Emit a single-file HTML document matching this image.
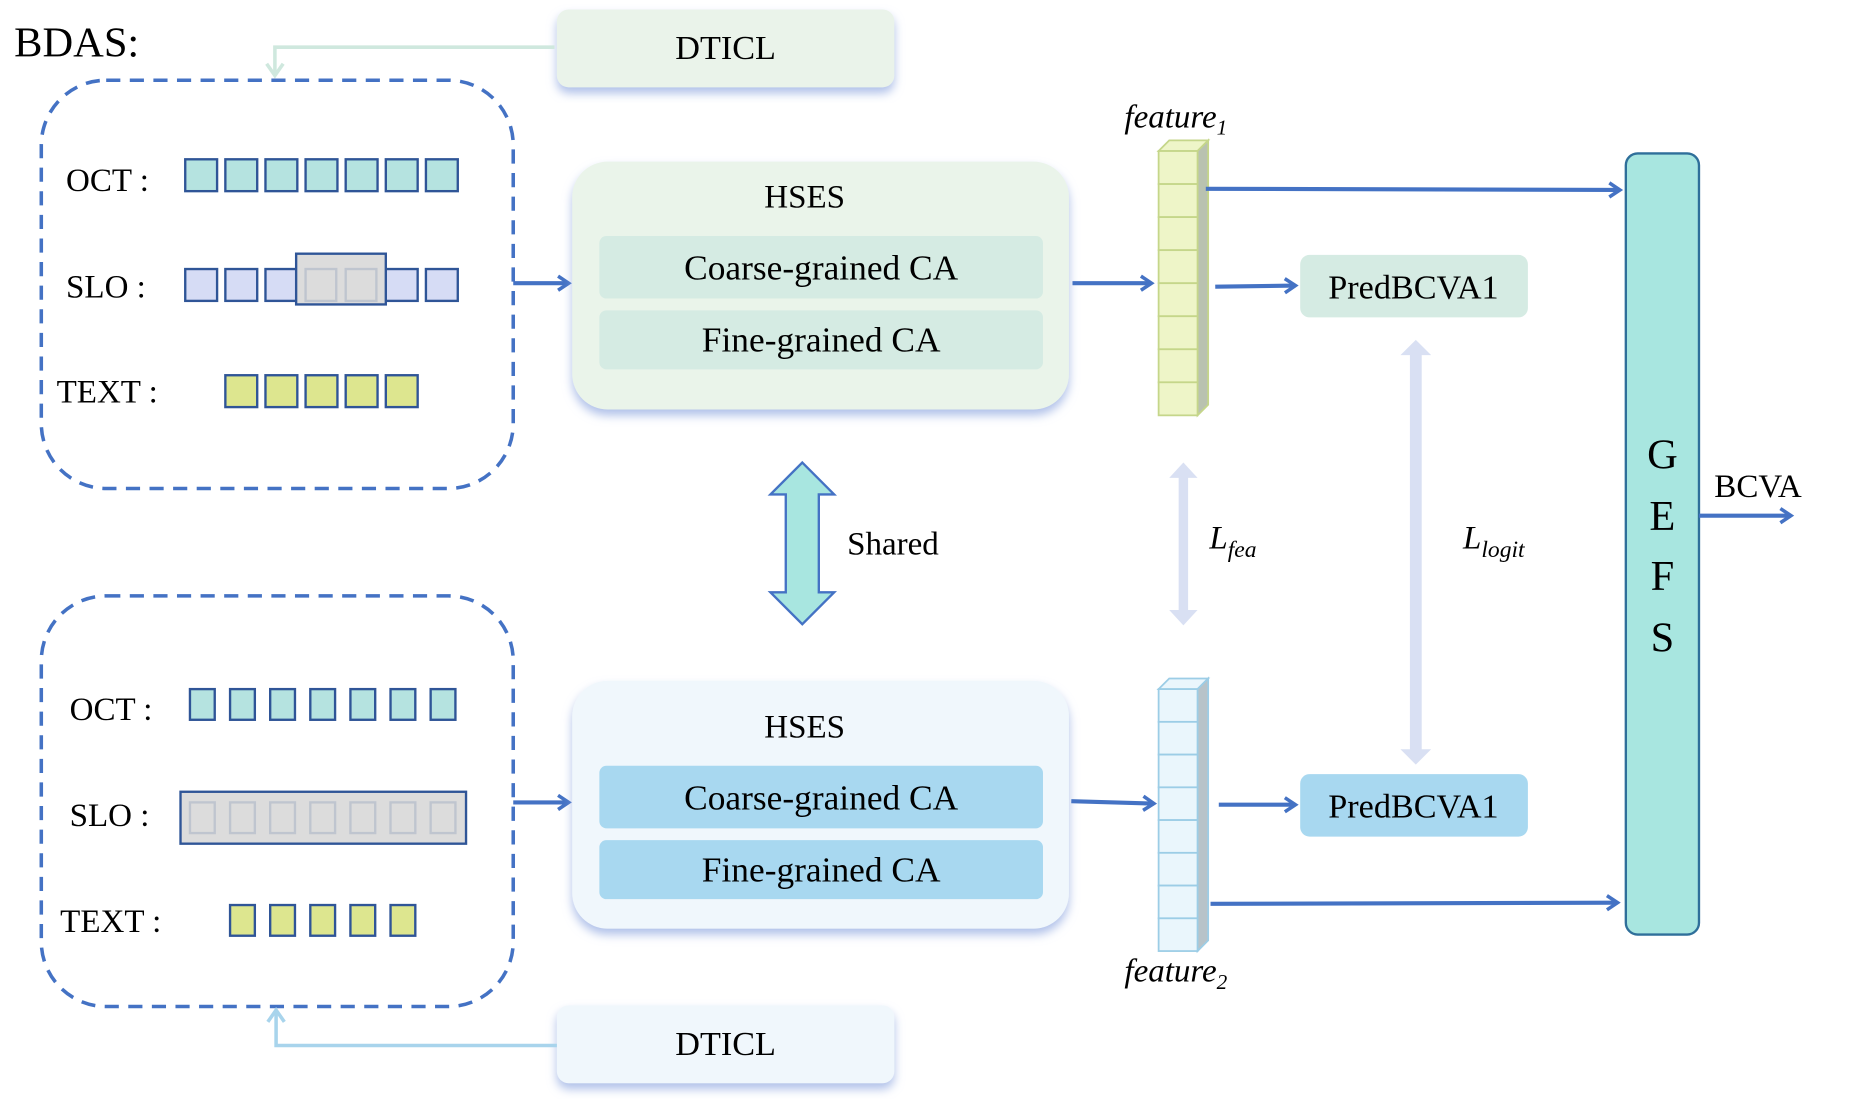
<!DOCTYPE html>
<html><head><meta charset="utf-8"><style>
html,body{margin:0;padding:0;background:#fff;}
svg{display:block;}
text{font-family:"Liberation Serif",serif;fill:#000;}
</style></head><body>
<svg width="1850" height="1108" viewBox="0 0 1568 939" preserveAspectRatio="none" xmlns="http://www.w3.org/2000/svg">
<defs>
<filter id="sh" x="-10%" y="-10%" width="120%" height="130%">
<feDropShadow dx="0" dy="5" stdDeviation="4" flood-color="#8ea6e0" flood-opacity="0.7"/>
</filter>
<marker id="ah" markerWidth="14" markerHeight="16" refX="11" refY="8" orient="auto" markerUnits="userSpaceOnUse">
<path d="M2,2 L11,8 L2,14" fill="none" stroke="#4472c4" stroke-width="3"/>
</marker>
</defs>

<text x="12" y="48" font-size="36">BDAS:</text>

<rect x="472" y="8" width="286" height="66" rx="10" fill="#eaf3ea" filter="url(#sh)"/>
<text x="615" y="50" font-size="29" text-anchor="middle">DTICL</text>
<path d="M470,40 H233 V62" fill="none" stroke="#cfe8de" stroke-width="3"/>
<path d="M226,54 L233,64 L240,54" fill="none" stroke="#cfe8de" stroke-width="3"/>

<rect x="35" y="68" width="400" height="346" rx="55" fill="none" stroke="#4472c4" stroke-width="3" stroke-dasharray="12,8"/>
<text x="56" y="162" font-size="28">OCT :</text>
<g fill="#b5e3e0" stroke="#2f5597" stroke-width="2">
<rect x="157" y="135" width="27" height="27"/><rect x="191" y="135" width="27" height="27"/><rect x="225" y="135" width="27" height="27"/><rect x="259" y="135" width="27" height="27"/><rect x="293" y="135" width="27" height="27"/><rect x="327" y="135" width="27" height="27"/><rect x="361" y="135" width="27" height="27"/>
</g>
<text x="56" y="252" font-size="28">SLO :</text>
<g fill="#d6dcf5" stroke="#2f5597" stroke-width="2">
<rect x="157" y="228" width="27" height="27"/><rect x="191" y="228" width="27" height="27"/><rect x="225" y="228" width="27" height="27"/><rect x="327" y="228" width="27" height="27"/><rect x="361" y="228" width="27" height="27"/>
</g>
<rect x="251" y="215" width="76" height="43" fill="#dcdcdc" stroke="#2f5597" stroke-width="2"/>
<rect x="259" y="228" width="26" height="27" fill="none" stroke="#bfc5cf" stroke-width="2"/>
<rect x="293" y="228" width="26" height="27" fill="none" stroke="#bfc5cf" stroke-width="2"/>
<text x="48" y="341" font-size="28">TEXT :</text>
<g fill="#dde68f" stroke="#2f5597" stroke-width="2">
<rect x="191" y="318" width="27" height="27"/><rect x="225" y="318" width="27" height="27"/><rect x="259" y="318" width="27" height="27"/><rect x="293" y="318" width="27" height="27"/><rect x="327" y="318" width="27" height="27"/>
</g>
<line x1="435" y1="240" x2="482" y2="240" stroke="#4472c4" stroke-width="3.5" marker-end="url(#ah)"/>

<rect x="485" y="137" width="421" height="210" rx="30" fill="#eaf4ea" filter="url(#sh)"/>
<text x="682" y="176" font-size="28" text-anchor="middle">HSES</text>
<rect x="508" y="200" width="376" height="53" rx="6" fill="#d5ebe3"/>
<text x="696" y="237" font-size="30" text-anchor="middle">Coarse-grained CA</text>
<rect x="508" y="263" width="376" height="50" rx="6" fill="#d5ebe3"/>
<text x="696" y="298" font-size="30" text-anchor="middle">Fine-grained CA</text>
<line x1="909" y1="240" x2="976" y2="240" stroke="#4472c4" stroke-width="3.5" marker-end="url(#ah)"/>

<text x="953" y="108" font-size="28" font-style="italic">feature<tspan font-size="18" dy="6">1</tspan></text>
<path d="M982,128 L991,119 L1024,119 L1015,128 Z" fill="#eef5c8" stroke="#c5d68a" stroke-width="1.5"/>
<path d="M1015,128 L1024,119 L1024,343 L1015,352 Z" fill="#b9c2b0" stroke="#c5d68a" stroke-width="1.5"/>
<g fill="#eef5c8" stroke="#c5d68a" stroke-width="1.5">
<rect x="982" y="128" width="33" height="28"/><rect x="982" y="156" width="33" height="28"/><rect x="982" y="184" width="33" height="28"/><rect x="982" y="212" width="33" height="28"/><rect x="982" y="240" width="33" height="28"/><rect x="982" y="268" width="33" height="28"/><rect x="982" y="296" width="33" height="28"/><rect x="982" y="324" width="33" height="28"/>
</g>
<line x1="1022" y1="160" x2="1373" y2="161" stroke="#4472c4" stroke-width="3.5" marker-end="url(#ah)"/>
<line x1="1030" y1="243" x2="1098" y2="242" stroke="#4472c4" stroke-width="3.5" marker-end="url(#ah)"/>
<rect x="1102" y="216" width="193" height="53" rx="8" fill="#d5ebe3"/>
<text x="1198" y="253" font-size="29" text-anchor="middle">PredBCVA1</text>

<g fill="#d9e0f3">
<rect x="1195" y="300" width="10" height="336"/>
<path d="M1187,301 L1200,288 L1213,301 Z"/>
<path d="M1187,635 L1200,648 L1213,635 Z"/>
</g>
<text x="1240" y="465" font-size="28" font-style="italic">L<tspan font-size="20" dy="7">logit</tspan></text>

<g fill="#d9e0f3">
<rect x="999" y="404" width="8" height="114"/>
<path d="M991,405 L1003,392 L1015,405 Z"/>
<path d="M991,517 L1003,530 L1015,517 Z"/>
</g>
<text x="1025" y="465" font-size="28" font-style="italic">L<tspan font-size="20" dy="7">fea</tspan></text>

<path d="M680,392 L707,419 L694,419 L694,502 L707,502 L680,529 L653,502 L666,502 L666,419 L653,419 Z" fill="#a8e6e0" stroke="#4472c4" stroke-width="2"/>
<text x="718" y="470" font-size="28">Shared</text>

<rect x="1378" y="130" width="62" height="662" rx="10" fill="#a8e6e0" stroke="#2f6f9a" stroke-width="2"/>
<text x="1409" y="397" font-size="36" text-anchor="middle">G</text>
<text x="1409" y="449" font-size="36" text-anchor="middle">E</text>
<text x="1409" y="500" font-size="36" text-anchor="middle">F</text>
<text x="1409" y="552" font-size="36" text-anchor="middle">S</text>
<text x="1453" y="421" font-size="28">BCVA</text>
<line x1="1440" y1="437" x2="1518" y2="437" stroke="#4472c4" stroke-width="3.5" marker-end="url(#ah)"/>

<rect x="35" y="505" width="400" height="348" rx="55" fill="none" stroke="#4472c4" stroke-width="3" stroke-dasharray="12,8"/>
<text x="59" y="610" font-size="28">OCT :</text>
<g fill="#b5e3e0" stroke="#2f5597" stroke-width="2">
<rect x="161" y="584" width="21" height="26"/><rect x="195" y="584" width="21" height="26"/><rect x="229" y="584" width="21" height="26"/><rect x="263" y="584" width="21" height="26"/><rect x="297" y="584" width="21" height="26"/><rect x="331" y="584" width="21" height="26"/><rect x="365" y="584" width="21" height="26"/>
</g>
<text x="59" y="700" font-size="28">SLO :</text>
<rect x="153" y="671" width="242" height="44" fill="#dcdcdc" stroke="#2f5597" stroke-width="2"/>
<g fill="none" stroke="#bfc5cf" stroke-width="2">
<rect x="161" y="680" width="21" height="26"/><rect x="195" y="680" width="21" height="26"/><rect x="229" y="680" width="21" height="26"/><rect x="263" y="680" width="21" height="26"/><rect x="297" y="680" width="21" height="26"/><rect x="331" y="680" width="21" height="26"/><rect x="365" y="680" width="21" height="26"/>
</g>
<text x="51" y="790" font-size="28">TEXT :</text>
<g fill="#dde68f" stroke="#2f5597" stroke-width="2">
<rect x="195" y="767" width="21" height="26"/><rect x="229" y="767" width="21" height="26"/><rect x="263" y="767" width="21" height="26"/><rect x="297" y="767" width="21" height="26"/><rect x="331" y="767" width="21" height="26"/>
</g>
<line x1="435" y1="680" x2="482" y2="680" stroke="#4472c4" stroke-width="3.5" marker-end="url(#ah)"/>

<rect x="485" y="577" width="421" height="210" rx="30" fill="#f0f7fc" filter="url(#sh)"/>
<text x="682" y="625" font-size="28" text-anchor="middle">HSES</text>
<rect x="508" y="649" width="376" height="53" rx="6" fill="#a8d8f0"/>
<text x="696" y="686" font-size="30" text-anchor="middle">Coarse-grained CA</text>
<rect x="508" y="712" width="376" height="50" rx="6" fill="#a8d8f0"/>
<text x="696" y="747" font-size="30" text-anchor="middle">Fine-grained CA</text>
<line x1="908" y1="679" x2="978" y2="681" stroke="#4472c4" stroke-width="3.5" marker-end="url(#ah)"/>

<path d="M982,584 L991,575 L1024,575 L1015,584 Z" fill="#eaf6fc" stroke="#9ccde6" stroke-width="1.5"/>
<path d="M1015,584 L1024,575 L1024,797 L1015,806 Z" fill="#b7c3c9" stroke="#9ccde6" stroke-width="1.5"/>
<g fill="#eaf6fc" stroke="#9ccde6" stroke-width="1.5">
<rect x="982" y="584" width="33" height="27.75"/><rect x="982" y="611.75" width="33" height="27.75"/><rect x="982" y="639.5" width="33" height="27.75"/><rect x="982" y="667.25" width="33" height="27.75"/><rect x="982" y="695" width="33" height="27.75"/><rect x="982" y="722.75" width="33" height="27.75"/><rect x="982" y="750.5" width="33" height="27.75"/><rect x="982" y="778.25" width="33" height="27.75"/>
</g>
<text x="953" y="832" font-size="28" font-style="italic">feature<tspan font-size="18" dy="6">2</tspan></text>
<line x1="1033" y1="682" x2="1098" y2="682" stroke="#4472c4" stroke-width="3.5" marker-end="url(#ah)"/>
<rect x="1102" y="656" width="193" height="53" rx="8" fill="#a8d8f0"/>
<text x="1198" y="693" font-size="29" text-anchor="middle">PredBCVA1</text>
<line x1="1026" y1="766" x2="1371" y2="765" stroke="#4472c4" stroke-width="3.5" marker-end="url(#ah)"/>

<rect x="472" y="852" width="286" height="66" rx="10" fill="#f0f7fc" filter="url(#sh)"/>
<text x="615" y="894" font-size="29" text-anchor="middle">DTICL</text>
<path d="M472,886 H234 V858" fill="none" stroke="#a8d4ec" stroke-width="3"/>
<path d="M227,866 L234,856 L241,866" fill="none" stroke="#a8d4ec" stroke-width="3"/>
</svg>
</body></html>
